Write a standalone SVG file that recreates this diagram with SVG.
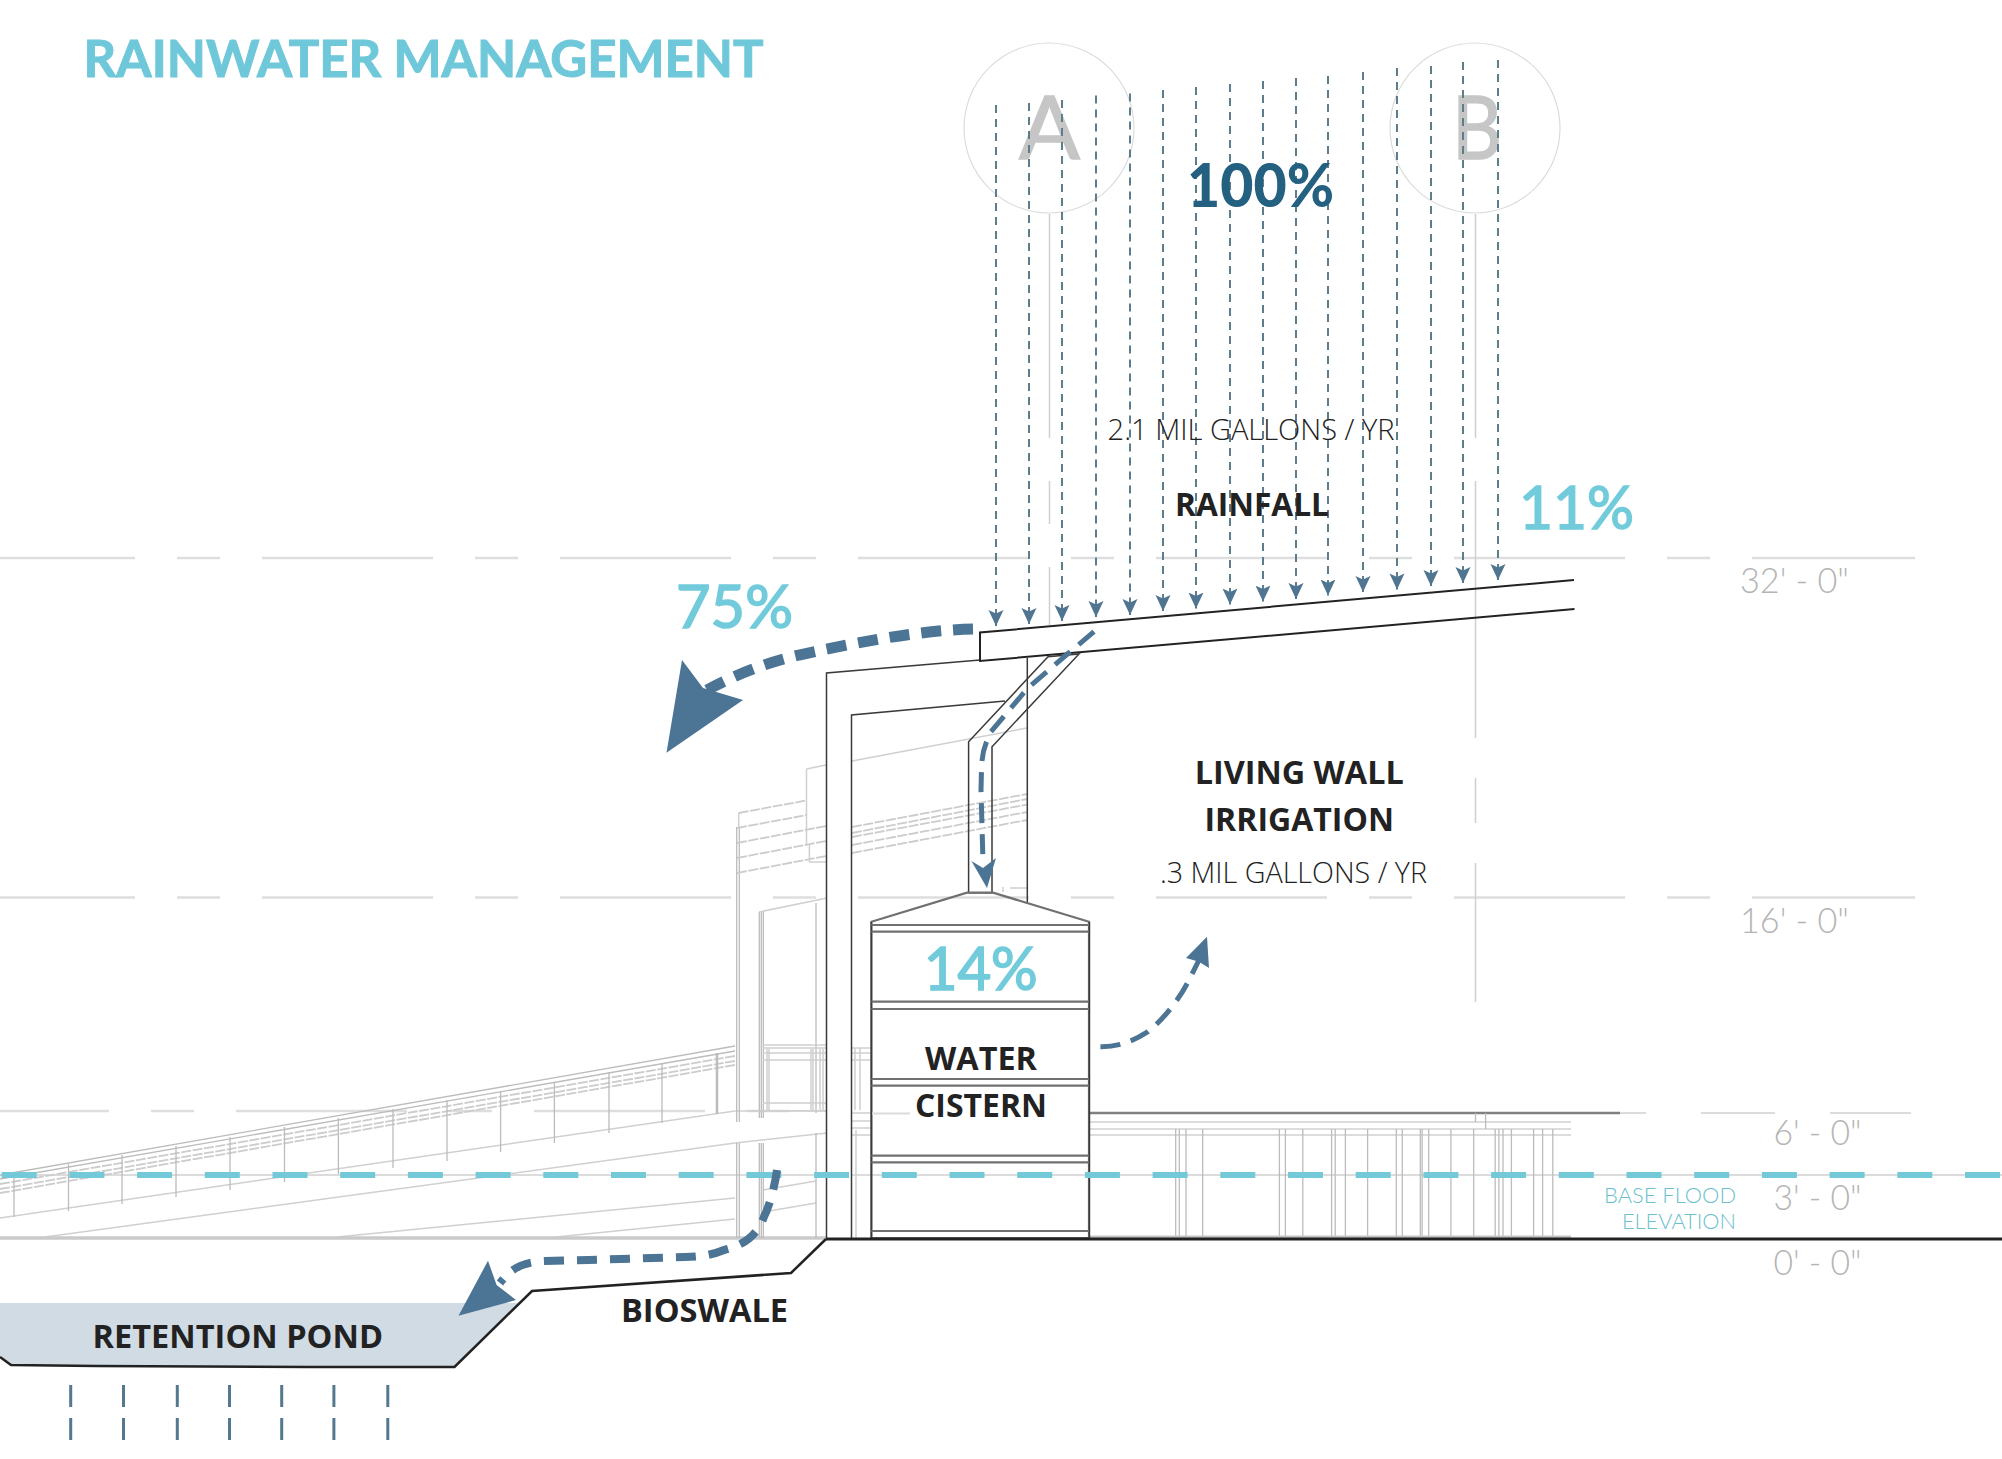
<svg xmlns="http://www.w3.org/2000/svg" width="2002" height="1459" viewBox="0 0 2002 1459">
<style>
.g1{stroke:#d0d0d0;stroke-width:1.5;fill:none}
.g2{stroke:#bcbcbc;stroke-width:1.3;fill:none}
.g3{stroke:#dcdcdc;stroke-width:2;fill:none}
.rail{stroke:#cccccc;stroke-width:1.8;fill:none;stroke-dasharray:10 1.5}
.datum{stroke:#dedede;stroke-width:2.5;fill:none;stroke-dasharray:171 42 43 42}
.k{stroke:#222;stroke-width:2;fill:none}
.k1{stroke:#3a3a3a;stroke-width:1.5;fill:none}
.band{stroke:#707070;stroke-width:2.2;fill:none}
.rain{stroke:#5f7c8c;stroke-width:2;stroke-dasharray:8 6;fill:none;marker-end:url(#rh)}
.flow{stroke:#4c7494;fill:none}
.head{fill:#4c7494}
.pond{stroke:#54788f;stroke-width:3;stroke-dasharray:22 11;fill:none}
.lab{font-family:"Open Sans","Liberation Sans",sans-serif;font-weight:700;fill:#222;font-size:33px}
.thin{font-family:"Open Sans","Liberation Sans",sans-serif;font-weight:300;fill:#222;font-size:29px}
.pct{font-family:Lato,"Liberation Sans",sans-serif;fill:#72cbdb;stroke:#72cbdb;stroke-width:1.6;font-size:60px}
.elev{font-family:Lato,"Liberation Sans",sans-serif;font-weight:300;fill:#b4b4b4;font-size:35px}
.flood{font-family:Lato,"Liberation Sans",sans-serif;font-weight:300;fill:#6cbfcd;font-size:22px}
.grid{font-family:Lato,"Liberation Sans",sans-serif;fill:#c6c6c6;stroke:#c6c6c6;stroke-width:1.5;font-size:88px}
</style>
<defs>
<marker id="rh" markerUnits="userSpaceOnUse" markerWidth="18" markerHeight="18" refX="16" refY="8" orient="auto">
<path d="M16 8L0 0.500L3.500 8L0 15.500Z" fill="#4f7590"/>
</marker>
</defs>
<rect width="2002" height="1459" fill="#fff"/>

<g id="datums">
<line class="datum" x1="-36" y1="558" x2="1915" y2="558"/>
<line class="datum" x1="-36" y1="897.500" x2="1915" y2="897.500"/>
<line class="datum" x1="-62" y1="1111" x2="800" y2="1111"/>
<path class="g3" d="M1701 1113H1775M1830 1113H1911M1620 1113H1646"/>
<line x1="0" y1="1175" x2="2002" y2="1175" stroke="#dcdcdc" stroke-width="2"/>
</g>

<g id="grid-lines">
<circle cx="1049" cy="128" r="85" fill="none" stroke="#dcdcdc" stroke-width="1.200"/>
<circle cx="1475" cy="128" r="85" fill="none" stroke="#dcdcdc" stroke-width="1.200"/>
<path class="g1" d="M1049.500 214V438M1049.500 481V524M1049.500 567V625M1475.500 214V438M1475.500 481V738M1475.500 778V823M1475.500 863V1002"/>
<text class="grid" x="1019" y="159" textLength="61" lengthAdjust="spacingAndGlyphs">A</text>
<text class="grid" x="1452" y="159" textLength="50" lengthAdjust="spacingAndGlyphs">B</text>
</g>

<g id="ramp">
<path class="g2" d="M0 1175L735 1046M0 1179L735 1051"/>
<path class="rail" d="M0 1184L735 1056M0 1189L735 1061M0 1193L735 1065"/>
<path class="g1" d="M0 1218L735 1111L827 1111M45 1237L735 1143L827 1133M337 1237L735 1198M763 1190L816 1181M556 1237L735 1219M763 1212L816 1203"/>
<path class="g2" d="M14 1178V1217M68.500 1164V1211M122 1155V1204M176 1146V1197M230 1137V1190M284.500 1127V1182M338.400 1118V1174M393 1109V1168M447 1100V1161M500.600 1091V1152M554.400 1082V1143M609 1072V1133M662 1063V1123M716.600 1053V1114"/>
<path d="M717 1053V1114" stroke="#bcbcbc" stroke-width="2.500"/>
<line x1="0" y1="1238" x2="826" y2="1238" stroke="#cacaca" stroke-width="3.500"/>
</g>

<g id="building-background">
<path class="g2" d="M736.700 827V1122M739.300 827V1122M736.700 1143V1238M739.300 1143V1238M759.300 912V1118M761.300 912V1118M763.300 912V1118M759.300 1143V1238M761.300 1143V1238M763.300 1143V1238M816 903V1113M816 1133V1238"/>
<path class="g1" d="M759 912L827 898M738.700 813V827M806.500 769V845M806.500 769L826 765M852 761L1027 728"/>
<path class="rail" d="M738.700 813L805 800.700M737 828L807 815M737 843L826 826M737 858L826 841M737 873L826 856M852 827L1027 794M852 837L1027 804.600M852 853L1027 820M852 833L1027 799M852 845L1027 812"/>
<path class="g1" d="M809.400 845V862H826"/>
<path class="g1" d="M763 1045H826M763 1048H826M763 1053H826M763 1060H826M763 1103H826M750 1110.700H826M767 1049V1111M769 1049V1111M811 1049V1111M813 1049V1111M820 1049V1111M823 1049V1111"/>
<path class="g1" d="M852 1048H871M852 1053H871M852 1060H871M852 1113H871M852 1121H871M852 1128H871M852 1135H871M855 1048V1110M860 1048V1110M856 1130V1238"/>
<path class="g1" d="M1010 888H1027M1003 887V892"/>
</g>

<g id="right-colonnade">
<path d="M1089 1113H1620" stroke="#808080" stroke-width="2.500" fill="none"/>
<path class="g3" d="M1089 1122H1571M1089 1129H1571M1089 1135H1571"/>
<path class="g2" d="M1475.500 1113V1122M1485.600 1113V1129M1175.700 1129V1237M1179.300 1129V1237M1186 1129V1237M1202.700 1129V1237M1279.400 1129V1237M1285.400 1129V1237M1302.800 1129V1237M1331.600 1129V1237M1335.200 1129V1237M1345.400 1129V1237M1367.600 1129V1237M1396.300 1129V1237M1402.300 1129V1237M1420.300 1129V1237M1422.100 1129V1237M1428.700 1129V1237M1450.900 1129V1237M1473.700 1129V1237M1495.200 1129V1237M1498.900 1129V1237M1503 1129V1237M1511.400 1129V1237M1533.600 1129V1237M1542.600 1129V1237M1552.800 1129V1237"/>
<line x1="1089" y1="1237" x2="1571" y2="1237" stroke="#c4c4c4" stroke-width="3"/>
</g>

<g id="structure">
<rect x="826.500" y="673" width="25" height="565" fill="#fff"/>
<path class="k1" d="M826.500 1238V673L980 660M851.500 1238V715L1005 701M1027.300 658V902"/>
<path class="k" d="M1574 580L980 632.500V661L1574.500 609"/>
</g>

<g id="pipe">
<path fill="#fff" class="k1" d="M1048 656.700L968.600 741.700V892.700H992V746.700L1079 654Z" stroke-width="1"/>
</g>

<g id="cistern">
<path fill="#fff" class="band" d="M871.400 921.700L967 892.700H993L1089 921.700V1238H871.400Z"/>
<path class="k1" d="M871.400 922V1238M1089.400 922V1238"/>
<path class="band" d="M871.400 925H1089M871.400 931.700H1089M871.400 1001.700H1089M871.400 1009H1089M871.400 1079H1089M871.400 1085.700H1089M871.400 1155.700H1089M871.400 1162.300H1089M871.400 1231H1089"/>
<path class="g3" d="M872 1113.500H910"/>
</g>

<g id="ground">
<path d="M826 1239H2002" stroke="#222" stroke-width="3" fill="none"/>
</g>

<g id="retention-pond">
<path d="M0 1303H520L454.500 1367L311 1367L96.500 1366L11 1365L0 1357Z" fill="#d1dbe4"/>
<path d="M826 1239L791 1273L532 1291L454.500 1367L311 1367L96.500 1366L11 1365L0 1357" stroke="#222" stroke-width="2.500" fill="none"/>
<g class="pond">
<line x1="70.700" y1="1385" x2="70.700" y2="1440"/><line x1="123.500" y1="1385" x2="123.500" y2="1440"/><line x1="177.300" y1="1385" x2="177.300" y2="1440"/><line x1="229.500" y1="1385" x2="229.500" y2="1440"/><line x1="281.700" y1="1385" x2="281.700" y2="1440"/><line x1="333.900" y1="1385" x2="333.900" y2="1440"/><line x1="387.800" y1="1385" x2="387.800" y2="1440"/>
</g>
</g>

<g id="flood-line">
<line x1="1.700" y1="1175" x2="2002" y2="1175" stroke="#74c9d8" stroke-width="6" stroke-dasharray="35 32.700"/>
</g>

<g id="connectors">
<line class="rain" x1="996" y1="105" x2="996" y2="626"/>
<line class="rain" x1="1029" y1="103" x2="1029" y2="624"/>
<line class="rain" x1="1062" y1="100" x2="1062" y2="621"/>
<line class="rain" x1="1096" y1="95.500" x2="1096" y2="617"/>
<line class="rain" x1="1130" y1="93.500" x2="1130" y2="615"/>
<line class="rain" x1="1163" y1="90" x2="1163" y2="611"/>
<line class="rain" x1="1196" y1="87" x2="1196" y2="608.500"/>
<line class="rain" x1="1230" y1="84" x2="1230" y2="604.500"/>
<line class="rain" x1="1263" y1="81" x2="1263" y2="601.600"/>
<line class="rain" x1="1296" y1="78" x2="1296" y2="599"/>
<line class="rain" x1="1328" y1="76" x2="1328" y2="595.500"/>
<line class="rain" x1="1363" y1="72" x2="1363" y2="592"/>
<line class="rain" x1="1397" y1="68" x2="1397" y2="589.400"/>
<line class="rain" x1="1431" y1="66" x2="1431" y2="586"/>
<line class="rain" x1="1463" y1="62" x2="1463" y2="583"/>
<line class="rain" x1="1498" y1="60" x2="1498" y2="580"/>

<path class="flow" stroke-width="11" stroke-dasharray="20 12" d="M973 629C925 630 868 640 799 655C765 663 735 675 707 690"/>
<path class="head" d="M666.500 752.700L682 660L703 688L743 700Z"/>

<path class="flow" stroke-width="5" stroke-dasharray="20 11" d="M1094 631.700L1068.600 653L1027.800 688L991 731.700C985 745 982 750 981.500 770L981 790L983 862"/>
<path class="head" d="M987 888L971.400 861L983 868L996 858Z"/>

<path class="flow" stroke-width="5" stroke-dasharray="20 11" d="M1100.400 1046.700C1120 1047 1135 1040 1148 1031.700C1165 1018 1180 998 1189 980L1199 960"/>
<path class="head" d="M1207 936.700L1186 958L1199 961.700L1209 968Z"/>

<path class="flow" stroke-width="8" stroke-dasharray="20 13" d="M777 1170C775 1185 770 1205 764 1216.700C758 1234 745 1245 724 1250C710 1256 695 1257 684.600 1257L589 1260L545 1261C520 1262 510 1270 500 1283"/>
<path class="head" d="M458.500 1315.700L488 1260.700L496.600 1285L516 1300Z"/>
</g>

<g id="labels">
<text x="83.600" y="77" font-family="Lato,'Liberation Sans',sans-serif" font-weight="700" font-size="51" fill="#6fc8d9" stroke="#6fc8d9" stroke-width="1" textLength="680" lengthAdjust="spacingAndGlyphs">RAINWATER MANAGEMENT</text>
<text x="1187" y="207" font-family="Lato,'Liberation Sans',sans-serif" font-weight="900" font-size="61" fill="#24607f" textLength="147" lengthAdjust="spacingAndGlyphs">100%</text>
<text class="thin" x="1107.600" y="440" textLength="287" lengthAdjust="spacingAndGlyphs">2.1 MIL GALLONS / YR</text>
<text class="lab" x="1175" y="516" textLength="154" lengthAdjust="spacingAndGlyphs">RAINFALL</text>
<text class="pct" x="1519" y="529" font-size="58" textLength="115" lengthAdjust="spacingAndGlyphs">11%</text>
<text class="pct" x="676" y="628" textLength="117" lengthAdjust="spacingAndGlyphs">75%</text>
<text class="pct" x="923.700" y="990" textLength="114" lengthAdjust="spacingAndGlyphs">14%</text>
<text class="lab" x="1194.700" y="784" textLength="209" lengthAdjust="spacingAndGlyphs">LIVING WALL</text>
<text class="lab" x="1204.500" y="831" textLength="189.500" lengthAdjust="spacingAndGlyphs">IRRIGATION</text>
<text class="thin" x="1160" y="883" textLength="267" lengthAdjust="spacingAndGlyphs">.3 MIL GALLONS / YR</text>
<text class="lab" x="925" y="1070" textLength="112" lengthAdjust="spacingAndGlyphs">WATER</text>
<text class="lab" x="915" y="1116.700" textLength="132" lengthAdjust="spacingAndGlyphs">CISTERN</text>
<text class="lab" x="621" y="1321.700" textLength="167" lengthAdjust="spacingAndGlyphs">BIOSWALE</text>
<text class="lab" x="92.600" y="1348" textLength="290.400" lengthAdjust="spacingAndGlyphs">RETENTION POND</text>
<text class="elev" x="1740" y="593" textLength="109" lengthAdjust="spacingAndGlyphs">32' - 0"</text>
<text class="elev" x="1740" y="933" textLength="109" lengthAdjust="spacingAndGlyphs">16' - 0"</text>
<text class="elev" x="1773.500" y="1145" textLength="88" lengthAdjust="spacingAndGlyphs">6' - 0"</text>
<text class="elev" x="1773.500" y="1210" textLength="88" lengthAdjust="spacingAndGlyphs">3' - 0"</text>
<text class="elev" x="1773.500" y="1275" textLength="88" lengthAdjust="spacingAndGlyphs">0' - 0"</text>
<text class="flood" x="1604" y="1203" textLength="132" lengthAdjust="spacingAndGlyphs">BASE FLOOD</text>
<text class="flood" x="1622" y="1229" textLength="114" lengthAdjust="spacingAndGlyphs">ELEVATION</text>
</g>
</svg>
